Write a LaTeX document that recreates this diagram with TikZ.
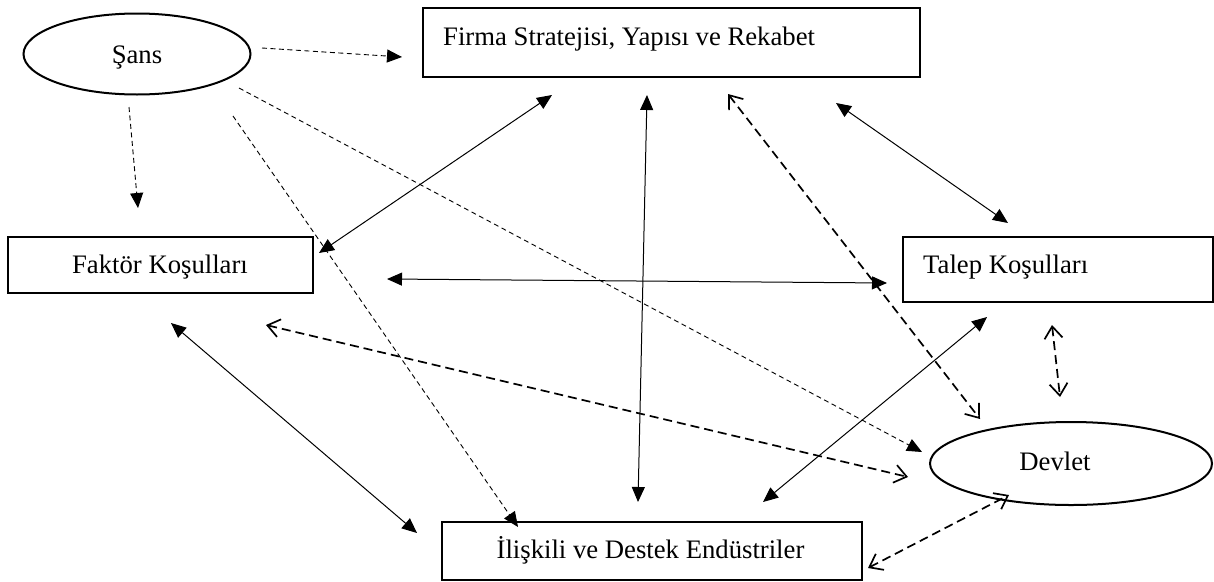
\documentclass[tikz,border=0pt]{standalone}
\usepackage{fontspec}
\setmainfont{Liberation Serif}
\usetikzlibrary{arrows.meta,shapes.geometric}
\begin{document}
\begin{tikzpicture}[x=1pt,y=-1pt,
  boxnode/.style={draw,line width=2pt,rectangle,inner sep=0pt},
  ellnode/.style={draw,line width=2pt,ellipse,inner sep=0pt},
  lbl/.style={inner sep=0pt,font=\fontsize{26.7}{32}\selectfont},
  filltip/.tip={Triangle[length=15pt,width=13pt]},
  opentip/.tip={Straight Barb[length=12pt,width=18pt]},
  solidlink/.style={line width=1pt,filltip-filltip},
  chancelink/.style={line width=0.9pt,dash pattern=on 5pt off 3.5pt,-filltip},
  govlink/.style={line width=1.7pt,dash pattern=on 9pt off 5pt,opentip-opentip},
]
\useasboundingbox (0,0) rectangle (1214,581);

% nodes
\node[ellnode, minimum width=227pt, minimum height=81pt] (sans) at (137,54) {};
\node[boxnode, minimum width=497pt, minimum height=69pt] (firma) at (671.5,42.5) {};
\node[boxnode, minimum width=305pt, minimum height=56pt] (faktor) at (160.5,265) {};
\node[boxnode, minimum width=310pt, minimum height=65pt] (talep) at (1057.5,269.5) {};
\node[ellnode, minimum width=282pt, minimum height=83pt] (devlet) at (1071,463.5) {};
\node[boxnode, minimum width=420pt, minimum height=58pt] (iliskili) at (652,551) {};

% labels
\node[lbl, anchor=base] (sanst) at (137,63) {Şans};
\node[lbl, anchor=base west] (firmat) at (443,45) {Firma Stratejisi, Yapısı ve Rekabet};
\node[lbl, anchor=base] (faktort) at (160,273) {Faktör Koşulları};
\node[lbl, anchor=base west] (talept) at (923,273) {Talep Koşulları};
\node[lbl, anchor=base] (devlett) at (1055,470) {Devlet};
\node[lbl, anchor=base] (iliskilit) at (650.5,558) {İlişkili ve Destek Endüstriler};

% connector end points (arrows stop short of the shapes)
\coordinate (sA) at (262,48);   \coordinate (fA) at (402,57);
\coordinate (sB) at (129,107);  \coordinate (kB) at (138,208);
\coordinate (sC) at (233,116);  \coordinate (iC) at (518,527);
\coordinate (sD) at (239,88);   \coordinate (dD) at (922,452);
\coordinate (kE) at (319,253);  \coordinate (fE) at (552,95);
\coordinate (fF) at (647,95);   \coordinate (iF) at (638,502);
\coordinate (fG) at (836,103);  \coordinate (tG) at (1008,223);
\coordinate (fH) at (728,94);   \coordinate (dH) at (980,419);
\coordinate (kI) at (387,279);  \coordinate (tI) at (887,283);
\coordinate (kJ) at (171,323);  \coordinate (iJ) at (417,533);
\coordinate (kK) at (266,325);  \coordinate (dK) at (908,477);
\coordinate (iL) at (763,502);  \coordinate (tL) at (987,317);
\coordinate (tM) at (1052,325); \coordinate (dM) at (1060,397);
\coordinate (iN) at (868,568);  \coordinate (dN) at (1009,495);

% chance links
\draw[chancelink] (sA) -- (fA);
\draw[chancelink] (sB) -- (kB);
\draw[chancelink] (sC) -- (iC);
\draw[chancelink] (sD) -- (dD);

% solid links
\draw[solidlink] (kE) -- (fE);
\draw[solidlink] (fF) -- (iF);
\draw[solidlink] (fG) -- (tG);
\draw[solidlink] (kI) -- (tI);
\draw[solidlink] (kJ) -- (iJ);
\draw[solidlink] (iL) -- (tL);

% government links
\draw[govlink] (fH) -- (dH);
\draw[govlink] (kK) -- (dK);
\draw[govlink] (tM) -- (dM);
\draw[govlink] (iN) -- (dN);
\end{tikzpicture}
\end{document}
